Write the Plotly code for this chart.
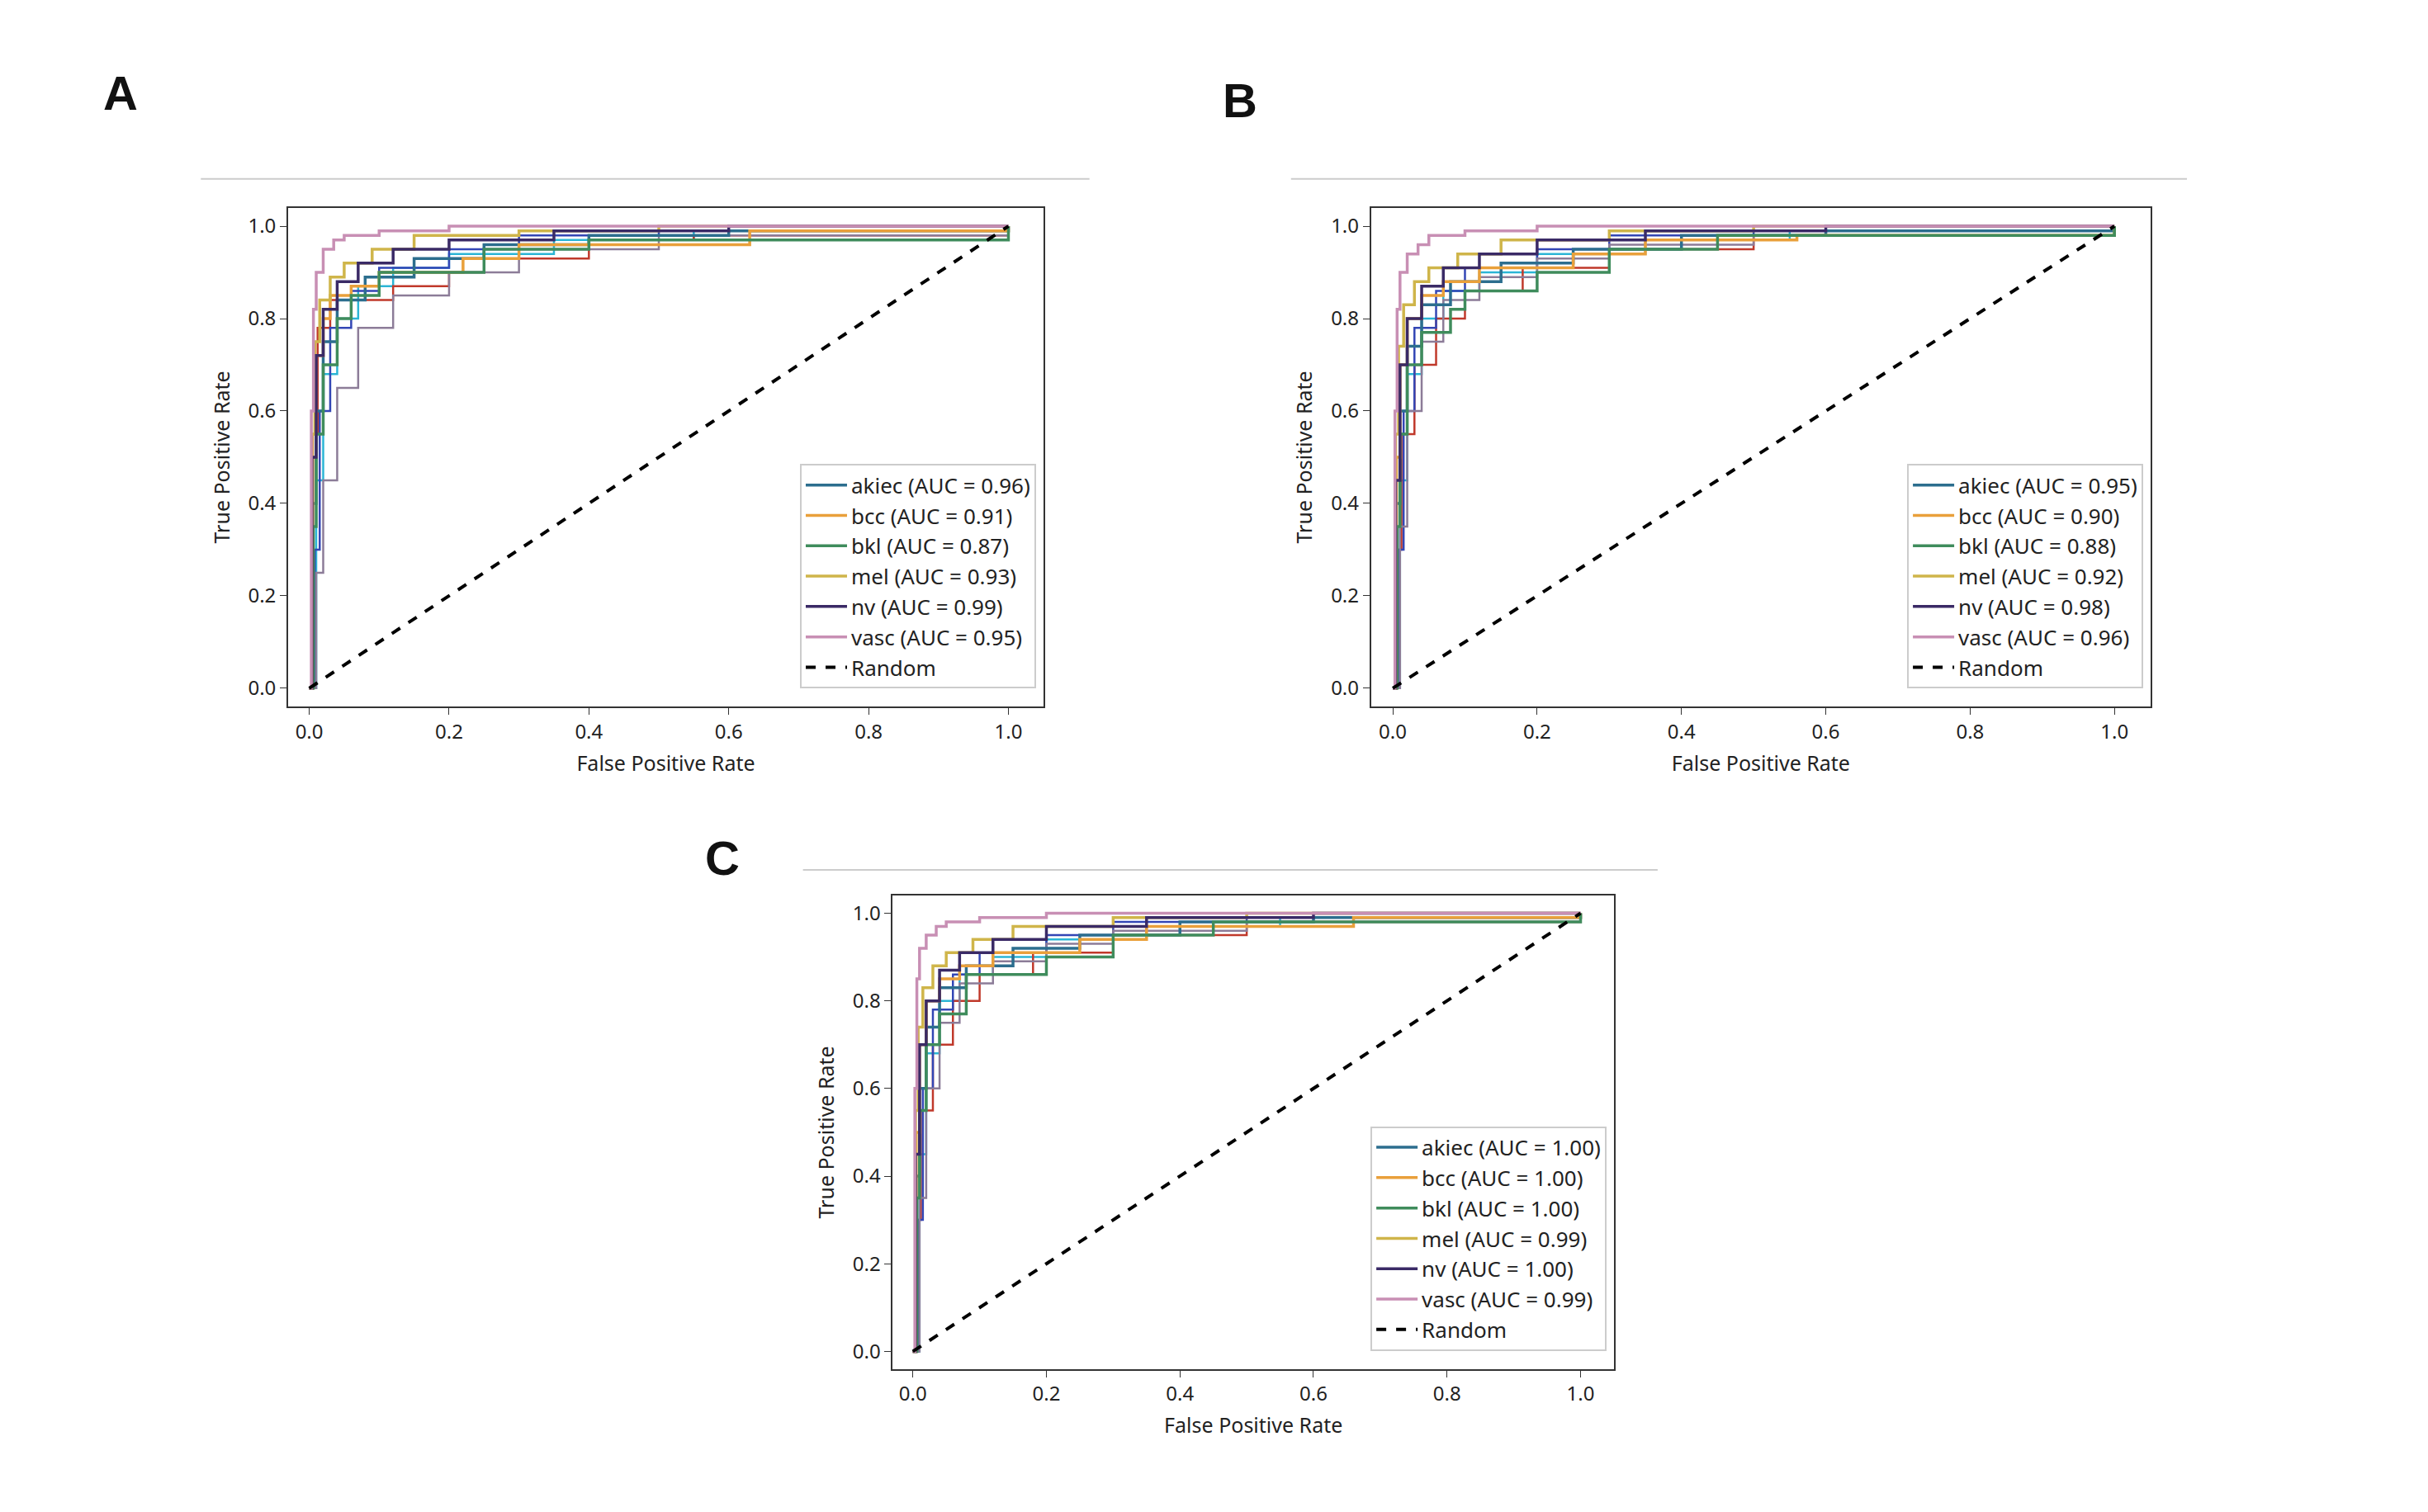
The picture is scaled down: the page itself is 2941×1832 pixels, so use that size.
import plotly.graph_objects as go

classes = ["akiec", "bcc", "bkl", "mel", "nv", "vasc"]
colors = ["#2c6e8e", "#e9a03b", "#3f8c5c", "#cfb54a", "#3a2a66", "#c88fb4"]
extra_colors = ["#2bb5d5", "#c0392b", "#3346b5", "#8c7c98"]

auc_a = [0.96, 0.91, 0.87, 0.93, 0.99, 0.95]
auc_b = [0.95, 0.90, 0.88, 0.92, 0.98, 0.96]
auc_c = [1.00, 1.00, 1.00, 0.99, 1.00, 0.99]

# panel A curves (fpr, tpr)
a_fpr = {
    "akiec": [0, 0.005, 0.01, 0.02, 0.04, 0.08, 0.15, 0.25, 0.4, 0.6, 1.0],
    "bcc":   [0, 0.005, 0.01, 0.02, 0.03, 0.06, 0.1, 0.22, 0.3, 0.63, 1.0],
    "bkl":   [0, 0.006, 0.01, 0.02, 0.04, 0.06, 0.1, 0.1, 0.25, 0.4, 1.0],
    "mel":   [0, 0.004, 0.008, 0.015, 0.03, 0.05, 0.09, 0.15, 0.3, 0.5, 1.0],
    "nv":    [0, 0.004, 0.01, 0.02, 0.04, 0.07, 0.12, 0.2, 0.35, 0.6, 1.0],
    "vasc":  [0, 0.003, 0.006, 0.01, 0.02, 0.035, 0.05, 0.1, 0.2, 0.4, 1.0],
}
a_tpr = {
    "akiec": [0, 0.4, 0.6, 0.75, 0.84, 0.89, 0.93, 0.96, 0.98, 0.99, 1.0],
    "bcc":   [0, 0.5, 0.72, 0.8, 0.85, 0.87, 0.9, 0.93, 0.96, 0.99, 1.0],
    "bkl":   [0, 0.35, 0.55, 0.7, 0.8, 0.85, 0.87, 0.9, 0.95, 0.97, 1.0],
    "mel":   [0, 0.55, 0.75, 0.84, 0.89, 0.92, 0.95, 0.98, 0.99, 1.0, 1.0],
    "nv":    [0, 0.5, 0.72, 0.82, 0.88, 0.92, 0.95, 0.97, 0.99, 1.0, 1.0],
    "vasc":  [0, 0.6, 0.82, 0.9, 0.95, 0.97, 0.98, 0.99, 1.0, 1.0, 1.0],
}
a_extra_fpr = [
    [0, 0.01, 0.02, 0.04, 0.07, 0.12, 0.2, 0.35, 0.55, 1.0],
    [0, 0.005, 0.012, 0.03, 0.12, 0.2, 0.25, 0.4, 0.55, 1.0],
    [0, 0.008, 0.015, 0.03, 0.06, 0.1, 0.2, 0.3, 0.5, 1.0],
    [0, 0.01, 0.02, 0.04, 0.07, 0.12, 0.2, 0.3, 0.5, 1.0],
]
a_extra_tpr = [
    [0, 0.45, 0.68, 0.8, 0.87, 0.91, 0.94, 0.97, 0.99, 1.0],
    [0, 0.55, 0.78, 0.84, 0.87, 0.9, 0.93, 0.97, 0.98, 1.0],
    [0, 0.3, 0.6, 0.78, 0.86, 0.91, 0.95, 0.98, 0.99, 1.0],
    [0, 0.25, 0.45, 0.65, 0.78, 0.85, 0.9, 0.95, 0.98, 1.0],
]

# panel B curves
b_fpr = {
    "akiec": [0, 0.005, 0.01, 0.02, 0.04, 0.08, 0.15, 0.25, 0.4, 0.6, 1.0],
    "bcc":   [0, 0.005, 0.01, 0.02, 0.04, 0.07, 0.12, 0.25, 0.35, 0.56, 1.0],
    "bkl":   [0, 0.006, 0.01, 0.02, 0.04, 0.08, 0.1, 0.2, 0.3, 0.45, 1.0],
    "mel":   [0, 0.004, 0.008, 0.015, 0.03, 0.05, 0.09, 0.15, 0.3, 0.5, 1.0],
    "nv":    [0, 0.004, 0.01, 0.02, 0.04, 0.07, 0.12, 0.2, 0.35, 0.6, 1.0],
    "vasc":  [0, 0.003, 0.006, 0.01, 0.02, 0.035, 0.05, 0.1, 0.2, 0.4, 1.0],
}
b_tpr = {
    "akiec": [0, 0.4, 0.6, 0.74, 0.83, 0.88, 0.92, 0.95, 0.98, 0.99, 1.0],
    "bcc":   [0, 0.5, 0.7, 0.8, 0.85, 0.88, 0.91, 0.94, 0.97, 0.98, 1.0],
    "bkl":   [0, 0.35, 0.55, 0.7, 0.77, 0.82, 0.86, 0.9, 0.95, 0.98, 1.0],
    "mel":   [0, 0.55, 0.74, 0.83, 0.88, 0.91, 0.94, 0.97, 0.99, 1.0, 1.0],
    "nv":    [0, 0.45, 0.7, 0.8, 0.87, 0.91, 0.94, 0.97, 0.99, 1.0, 1.0],
    "vasc":  [0, 0.6, 0.82, 0.9, 0.94, 0.96, 0.98, 0.99, 1.0, 1.0, 1.0],
}
b_extra_fpr = [
    [0, 0.01, 0.02, 0.04, 0.07, 0.12, 0.2, 0.35, 0.55, 1.0],
    [0, 0.005, 0.012, 0.03, 0.06, 0.1, 0.18, 0.3, 0.5, 1.0],
    [0, 0.008, 0.015, 0.03, 0.06, 0.1, 0.2, 0.3, 0.5, 1.0],
    [0, 0.01, 0.02, 0.04, 0.07, 0.12, 0.2, 0.3, 0.5, 1.0],
]
b_extra_tpr = [
    [0, 0.45, 0.68, 0.8, 0.86, 0.9, 0.94, 0.97, 0.99, 1.0],
    [0, 0.3, 0.55, 0.7, 0.8, 0.86, 0.91, 0.95, 0.98, 1.0],
    [0, 0.3, 0.6, 0.78, 0.86, 0.91, 0.95, 0.98, 0.99, 1.0],
    [0, 0.35, 0.6, 0.75, 0.84, 0.89, 0.93, 0.96, 0.98, 1.0],
]

# panel C curves
c_fpr = {
    "akiec": [0, 0.005, 0.01, 0.02, 0.04, 0.08, 0.15, 0.25, 0.4, 0.6, 1.0],
    "bcc":   [0, 0.005, 0.01, 0.02, 0.04, 0.07, 0.12, 0.25, 0.35, 0.66, 1.0],
    "bkl":   [0, 0.006, 0.01, 0.02, 0.04, 0.08, 0.08, 0.2, 0.3, 0.45, 1.0],
    "mel":   [0, 0.004, 0.008, 0.015, 0.03, 0.05, 0.09, 0.15, 0.3, 0.5, 1.0],
    "nv":    [0, 0.004, 0.01, 0.02, 0.04, 0.07, 0.12, 0.2, 0.35, 0.6, 1.0],
    "vasc":  [0, 0.003, 0.006, 0.01, 0.02, 0.035, 0.05, 0.1, 0.2, 0.4, 1.0],
}
c_tpr = {
    "akiec": [0, 0.4, 0.6, 0.74, 0.83, 0.88, 0.92, 0.95, 0.98, 0.99, 1.0],
    "bcc":   [0, 0.5, 0.7, 0.8, 0.85, 0.88, 0.91, 0.94, 0.97, 0.99, 1.0],
    "bkl":   [0, 0.35, 0.55, 0.7, 0.77, 0.82, 0.86, 0.9, 0.95, 0.98, 1.0],
    "mel":   [0, 0.55, 0.74, 0.83, 0.88, 0.91, 0.94, 0.97, 0.99, 1.0, 1.0],
    "nv":    [0, 0.45, 0.7, 0.8, 0.87, 0.91, 0.94, 0.97, 0.99, 1.0, 1.0],
    "vasc":  [0, 0.6, 0.85, 0.92, 0.95, 0.97, 0.98, 0.99, 1.0, 1.0, 1.0],
}
c_extra_fpr = b_extra_fpr
c_extra_tpr = b_extra_tpr

panels = [
    ("A", a_fpr, a_tpr, a_extra_fpr, a_extra_tpr, auc_a),
    ("B", b_fpr, b_tpr, b_extra_fpr, b_extra_tpr, auc_b),
    ("C", c_fpr, c_tpr, c_extra_fpr, c_extra_tpr, auc_c),
]
x_domains = [[0.116, 0.427], [0.562, 0.883], [0.365, 0.662]]
y_domains = [[0.537, 0.867], [0.537, 0.867], [0.099, 0.412]]
letter_pos = [(0.039, 0.962), (0.508, 0.957), (0.287, 0.437)]
rule_lines = [(0.080, 0.446, 0.886), (0.529, 0.898, 0.886), (0.328, 0.680, 0.429)]

fig = go.Figure()
font = "Noto Sans"

for i, (letter, fpr, tpr, efpr, etpr, aucs) in enumerate(panels):
    n = "" if i == 0 else str(i + 1)
    xa, ya, lg = "x" + n, "y" + n, "legend" + n
    for j in range(len(efpr)):
        fig.add_trace(go.Scatter(x=efpr[j], y=etpr[j], mode="lines", line_shape="hv",
                                 line=dict(color=extra_colors[j], width=2.5),
                                 showlegend=False, xaxis=xa, yaxis=ya))
    for k, c in enumerate(classes):
        fig.add_trace(go.Scatter(x=fpr[c], y=tpr[c], mode="lines", line_shape="hv",
                                 line=dict(color=colors[k], width=3.5),
                                 name=f"{c} (AUC = {aucs[k]:.2f})",
                                 legend=lg, xaxis=xa, yaxis=ya))
    fig.add_trace(go.Scatter(x=[0, 1], y=[0, 1], mode="lines",
                             line=dict(color="black", width=4, dash="dash"),
                             name="Random", legend=lg, xaxis=xa, yaxis=ya))

    axis_common = dict(showline=True, linecolor="#333", linewidth=2, mirror=True,
                       ticks="outside", ticklen=8, tickcolor="#333", showgrid=False,
                       zeroline=False, tickfont=dict(size=24, family=font, color="#222"),
                       tickformat=".1f", dtick=0.2, tick0=0)
    fig.update_layout({
        "xaxis" + n: dict(axis_common, domain=x_domains[i], anchor=ya, range=[-0.03, 1.05],
                          title=dict(text="False Positive Rate", font=dict(size=25, family=font, color="#222"))),
        "yaxis" + n: dict(axis_common, domain=y_domains[i], anchor=xa, range=[-0.04, 1.04],
                          title=dict(text="True Positive Rate", font=dict(size=25, family=font, color="#222"))),
        lg: dict(x=x_domains[i][1] - 0.003, y=y_domains[i][0] + 0.012, xanchor="right", yanchor="bottom",
                 bgcolor="white", bordercolor="#ccc", borderwidth=2, itemwidth=50,
                 font=dict(size=26, family=font, color="#222"), tracegroupgap=0),
    })
    fig.add_annotation(text=f"<b>{letter}</b>", x=letter_pos[i][0], y=letter_pos[i][1],
                       xref="paper", yref="paper", showarrow=False,
                       font=dict(size=58, family="Liberation Sans", color="#111"))
    x0, x1, yy = rule_lines[i]
    fig.add_shape(type="line", xref="paper", yref="paper", x0=x0, x1=x1, y0=yy, y1=yy,
                  line=dict(color="#cccccc", width=2))

fig.update_layout(width=2941, height=1832, margin=dict(l=0, r=0, t=0, b=0),
                  paper_bgcolor="white", plot_bgcolor="white")
fig.write_html("out.html")
